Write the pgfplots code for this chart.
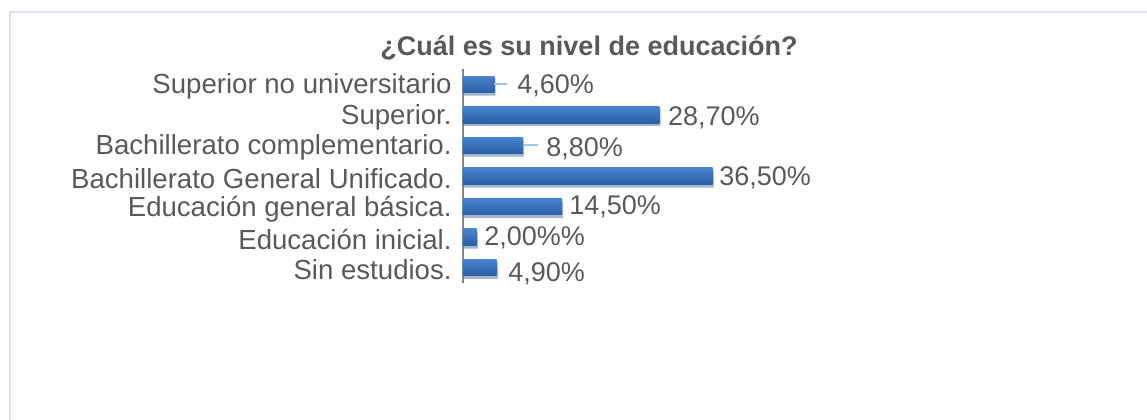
\documentclass[border=0pt]{standalone}
\usepackage{pgfplots}
\pgfplotsset{compat=1.18}
\usepackage{fontspec}
\setmainfont{Liberation Sans}
\usetikzlibrary{shadows}
\definecolor{txt}{HTML}{595959}
\definecolor{framec}{RGB}{218,228,242}
\definecolor{bartop}{RGB}{72,132,207}
\definecolor{barbot}{RGB}{42,94,165}
\definecolor{leader}{RGB}{157,195,230}
\definecolor{axisgray}{RGB}{134,134,134}
\pgfplotsset{mybar/.style={xbar, bar width=8.25pt, bar shift=0pt, draw=none, top color=bartop, bottom color=barbot,
  drop shadow={shadow xshift=0.5pt, shadow yshift=-1.4pt, opacity=0.3}}}
\begin{document}
\begin{tikzpicture}
\useasboundingbox (0,0) rectangle (573.5pt,209.5pt);
\draw[framec, line width=0.75pt] (576pt,203.5pt) -- (5pt,203.5pt) -- (5pt,-2pt);
\node[font=\bfseries\fontsize{13.5}{16}\selectfont, text=txt] at (294.5pt,185.5pt) {¿Cuál es su nivel de educación?};
\begin{axis}[
  at={(231.5pt,68pt)}, anchor=south west,
  x=3.42pt, y=15.285pt,
  xmin=0, xmax=40, ymin=-0.5, ymax=6.5,
  clip=false,
  axis x line=none,
  axis y line*=left,
  y axis line style={draw=axisgray, line width=0.75pt, -},
  ytick={0,...,6},
  yticklabels={Sin estudios., Educación inicial., Educación general básica., Bachillerato General Unificado., Bachillerato complementario., Superior., Superior no universitario},
  major tick length=0pt,
  ytick style={draw=none},
  yticklabel style={font=\fontsize{13.8}{16}\selectfont, text=txt, inner sep=0pt, anchor=east, xshift=-5.5pt, yshift=-1.1pt},
]
\addplot[mybar] coordinates {(4.9,0)};
\addplot[mybar] coordinates {(2.0,1)};
\addplot[mybar] coordinates {(14.5,2)};
\addplot[mybar] coordinates {(36.5,3)};
\addplot[mybar] coordinates {(8.8,4)};
\addplot[mybar] coordinates {(28.7,5)};
\addplot[mybar] coordinates {(4.6,6)};
\addplot[leader, line width=1pt] coordinates {(4.6,6) (6.46,6)};
\addplot[leader, line width=1pt] coordinates {(8.8,4) (10.9,4)};
\addplot[draw=none, nodes near coords, point meta=explicit symbolic,
  nodes near coords style={anchor=west, inner sep=0pt, text=txt, font=\fontsize{13.5}{16}\selectfont}]
  coordinates {
  (7.9,5.94) [{4,60\%}]
  (29.93,4.91) [{28,70\%}]
  (12.13,3.89) [{8,80\%}]
  (37.43,2.93) [{36,50\%}]
  (15.5,1.98) [{14,50\%}]
  (3.07,0.98) [{2,00\%\%}]
  (6.58,-0.2) [{4,90\%}]
  };
\end{axis}
\end{tikzpicture}
\end{document}
